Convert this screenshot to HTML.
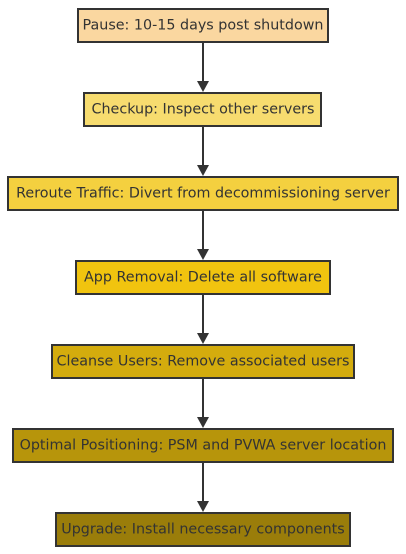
<!DOCTYPE html>
<html><head><meta charset="utf-8"><style>
html,body{margin:0;padding:0;background:#fff;width:406px;height:554px;overflow:hidden}
text{font-family:"DejaVu Sans","Liberation Sans",sans-serif;font-size:14.3px;fill:#333;text-anchor:middle;dominant-baseline:central}
rect{stroke:#333;stroke-width:2}
line{stroke:#333;stroke-width:2}
path{fill:#333}
</style></head><body>
<svg width="406" height="554" xmlns="http://www.w3.org/2000/svg">
<line x1="203" y1="42" x2="203" y2="84"/><path d="M197,81 L209,81 L203,92 z"/>
<line x1="203" y1="126" x2="203" y2="168"/><path d="M197,165 L209,165 L203,176 z"/>
<line x1="203" y1="210" x2="203" y2="252"/><path d="M197,249 L209,249 L203,260 z"/>
<line x1="203" y1="294" x2="203" y2="336"/><path d="M197,333 L209,333 L203,344 z"/>
<line x1="203" y1="378" x2="203" y2="420"/><path d="M197,417 L209,417 L203,428 z"/>
<line x1="203" y1="462" x2="203" y2="504"/><path d="M197,501 L209,501 L203,512 z"/>
<rect x="78" y="9" width="250" height="33" fill="#fad7a0"/><text x="203" y="25.5">Pause: 10-15 days post shutdown</text>
<rect x="84" y="93" width="237" height="33" fill="#f7dc6f"/><text x="203" y="109.5">Checkup: Inspect other servers</text>
<rect x="8" y="177" width="390" height="33" fill="#f4d03f"/><text x="203" y="193.5">Reroute Traffic: Divert from decommissioning server</text>
<rect x="76" y="261" width="254" height="33" fill="#f1c40f"/><text x="203" y="277.5">App Removal: Delete all software</text>
<rect x="52" y="345" width="302" height="33" fill="#d4ac0d"/><text x="203" y="361.5">Cleanse Users: Remove associated users</text>
<rect x="13" y="429" width="380" height="33" fill="#b7950b"/><text x="203" y="445.5">Optimal Positioning: PSM and PVWA server location</text>
<rect x="56" y="513" width="294" height="33" fill="#9a7d0a"/><text x="203" y="529.5">Upgrade: Install necessary components</text>
</svg>
</body></html>
